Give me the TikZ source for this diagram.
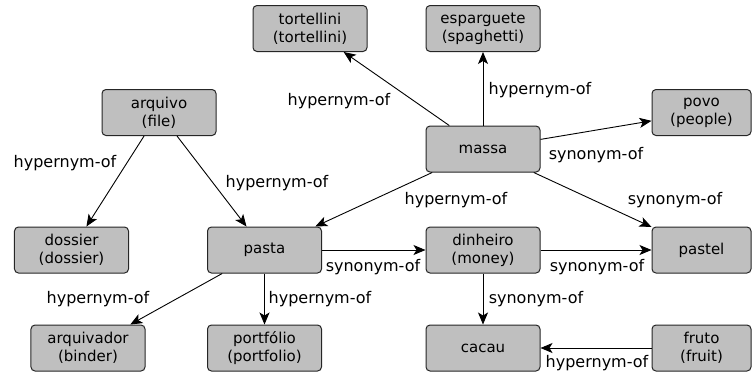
\documentclass[tikz,border=0pt]{standalone}
\usepackage{fontspec}
\setmainfont{DejaVu Sans}
\usetikzlibrary{arrows.meta}

\tikzset{
	lemma/.style={draw=black!85, fill=lightgray, rounded corners=4bp, line width=1bp,
		minimum width=114bp, minimum height=46bp, inner sep=0pt, align=center,
		font=\fontsize{15bp}{18bp}\selectfont},
	lemmaslim/.style={lemma, minimum width=99bp},
	relname/.style={inner sep=0pt, font=\fontsize{16bp}{18bp}\selectfont},
	link/.style={-{Stealth[length=12bp,width=10bp,inset=3bp]}, line width=0.9bp, black}
}

\begin{document}
\begin{tikzpicture}[x=1bp, y=-1bp]
		\useasboundingbox (0,0) rectangle (756,377);

		\node[lemma] (tortellini) at (310,28.5) {tortellini\\(tortellini)};
		\node[lemma] (esparguete) at (483,28.5) {esparguete\\(spaghetti)};
		\node[lemma] (arquivo) at (159,112.5) {arquivo\\(file)};
		\node[lemma] (massa) at (483,149) {massa};
		\node[lemmaslim] (povo) at (701.5,112.5) {povo\\(people)};

		\node[lemma] (dossier) at (71.5,250) {dossier\\(dossier)};
		\node[lemma] (pasta) at (264.5,250) {pasta};
		\node[lemma] (dinheiro) at (483,250) {dinheiro\\(money)};
		\node[lemmaslim] (pastel) at (701.5,250) {pastel};

		\node[lemma] (arquivador) at (88,348) {arquivador\\(binder)};
		\node[lemma] (portfolio) at (264.5,348) {portfólio\\(portfolio)};
		\node[lemma] (cacau) at (483,348) {cacau};
		\node[lemmaslim] (fruto) at (701.5,348) {fruto\\(fruit)};

		\draw[link] (massa) -- (tortellini);
		\draw[link] (massa) -- (esparguete);
		\draw[link] (massa) -- (povo);
		\draw[link] (massa) -- (pasta);
		\draw[link] (massa) -- (pastel);
		\draw[link] (arquivo) -- (dossier);
		\draw[link] (arquivo) -- (pasta);
		\draw[link] (pasta) -- (dinheiro);
		\draw[link] (dinheiro) -- (pastel);
		\draw[link] (pasta) -- (arquivador);
		\draw[link] (pasta) -- (portfolio);
		\draw[link] (dinheiro) -- (cacau);
		\draw[link] (fruto) -- (cacau);

		\node[relname] (r1) at (339,101) {hypernym-of};
		\node[relname] (r2) at (540,90) {hypernym-of};
		\node[relname] (r3) at (596,155) {synonym-of};
		\node[relname] (r4) at (456,200) {hypernym-of};
		\node[relname] (r5) at (675,200) {synonym-of};
		\node[relname] (r6) at (65,163) {hypernym-of};
		\node[relname] (r7) at (277,183) {hypernym-of};
		\node[relname] (r8) at (373,267) {synonym-of};
		\node[relname] (r9) at (597,267) {synonym-of};
		\node[relname] (r10) at (98,299) {hypernym-of};
		\node[relname] (r11) at (320,299) {hypernym-of};
		\node[relname] (r12) at (536,299) {synonym-of};
		\node[relname] (r13) at (597,363) {hypernym-of};
	\end{tikzpicture}
\end{document}
